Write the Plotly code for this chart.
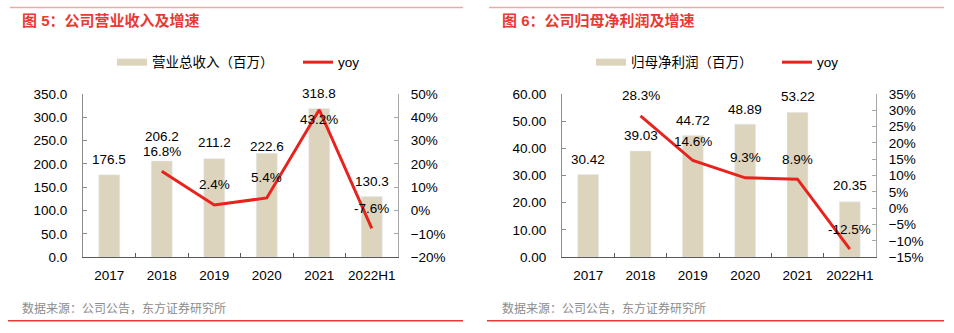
import plotly.graph_objects as go

# ---------------- data ----------------
categories = ["2017", "2018", "2019", "2020", "2021", "2022H1"]

revenue = [176.5, 206.2, 211.2, 222.6, 318.8, 130.3]
revenue_yoy = [None, 16.8, 2.4, 5.4, 43.2, -7.6]

profit = [30.42, 39.03, 44.72, 48.89, 53.22, 20.35]
profit_yoy = [None, 28.3, 14.6, 9.3, 8.9, -12.5]

title1 = "图 5：公司营业收入及增速"
title2 = "图 6：公司归母净利润及增速"
source = "数据来源：公司公告，东方证券研究所"
bar_name1 = "营业总收入（百万）"
bar_name2 = "归母净利润（百万）"
line_name = "yoy"

# ---------------- styles ----------------
W, H = 954, 333
BAR = "#ddd4bd"
RED = "#e8231e"
TITLE_RED = "#e83a33"
FONT = "'Liberation Sans', Arial, 'Noto Sans CJK SC', sans-serif"
FS = 13.5

# label offsets (px above the value)
rev_bar_off = [15, 24, 16, 7, 15, 15]
rev_line_off = [0, 20, 20, 20, -10, 20]
pro_bar_off = [15, 15, 15, 15, 16, 16]
pro_line_off = [0, 20, 19, 20, 20, 20]

def px(x):
    return x / W

def py(y):
    return 1 - y / H

y0, y1 = py(262), py(91)

fig = go.Figure()

# chart 1
fig.add_trace(go.Bar(x=categories, y=revenue, marker_color=BAR, width=0.4,
                     xaxis="x", yaxis="y", showlegend=False, name=bar_name1))
fig.add_trace(go.Scatter(x=categories, y=revenue_yoy, mode="lines",
                         line=dict(color=RED, width=3), xaxis="x", yaxis="y2",
                         name=line_name, legend="legend2"))
fig.add_trace(go.Scatter(x=[categories[0]], y=[None], mode="lines",
                         line=dict(color=BAR, width=7), xaxis="x", yaxis="y",
                         name=bar_name1, legend="legend"))
# chart 2
fig.add_trace(go.Bar(x=categories, y=profit, marker_color=BAR, width=0.4,
                     xaxis="x2", yaxis="y3", showlegend=False, name=bar_name2))
fig.add_trace(go.Scatter(x=categories, y=profit_yoy, mode="lines",
                         line=dict(color=RED, width=3), xaxis="x2", yaxis="y4",
                         name=line_name, legend="legend4"))
fig.add_trace(go.Scatter(x=[categories[0]], y=[None], mode="lines",
                         line=dict(color=BAR, width=7), xaxis="x2", yaxis="y3",
                         name=bar_name2, legend="legend3"))

tickfont = dict(family=FONT, size=FS, color="#000000")

def xax(domain, anchor):
    return dict(domain=domain, anchor=anchor, type="category",
                categoryorder="array", categoryarray=categories,
                range=[-0.5, len(categories) - 0.5],
                showline=True, linecolor="#595959", linewidth=1.3,
                ticks="inside", tickson="boundaries", ticklen=4,
                tickcolor="#595959", tickfont=tickfont, ticklabelstandoff=5,
                tickangle=0, showgrid=False, zeroline=False, fixedrange=True)

def yleft(anchor, rng, dtick, fmt):
    return dict(domain=[y0, y1], anchor=anchor, range=rng, dtick=dtick,
                tickformat=fmt, showline=True, linecolor="#8c8c8c",
                ticks="inside", ticklen=4, tickcolor="#8c8c8c",
                tickfont=tickfont, ticklabelstandoff=12,
                showgrid=False, zeroline=False)

def yright(anchor, overlay, rng, dtick):
    return dict(domain=[y0, y1], anchor=anchor, overlaying=overlay,
                side="right", range=rng, dtick=dtick, ticksuffix="%",
                showline=True, linecolor="#a6a6a6", ticks="inside",
                ticklen=4, tickcolor="#a6a6a6", tickfont=tickfont,
                ticklabelstandoff=9, showgrid=False, zeroline=False)

legfont = dict(family=FONT, size=FS, color="#000000")

def leg(xpix, ypix):
    return dict(x=px(xpix), y=py(ypix), xanchor="left", yanchor="middle",
                orientation="h", font=legfont, bgcolor="rgba(0,0,0,0)",
                borderwidth=0, itemclick=False)

fig.update_layout(
    width=W, height=H, margin=dict(l=0, r=0, t=0, b=0),
    paper_bgcolor="white", plot_bgcolor="white",
    font=dict(family=FONT, size=FS, color="#000000"),
    barmode="overlay",
    xaxis=xax([px(83), px(398)], "y"),
    yaxis=yleft("x", [0, 350], 50, ".1f"),
    yaxis2=yright("x", "y", [-20, 50], 10),
    xaxis2=xax([px(562), px(876)], "y3"),
    yaxis3=yleft("x2", [0, 60], 10, ".2f"),
    yaxis4=yright("x2", "y3", [-15, 35], 5),
    legend=leg(112, 58),
    legend2=leg(298, 58),
    legend3=leg(591, 58),
    legend4=leg(777, 58),
)

ann = []
def label(xref, yref, ys, offs, fmt):
    for i, (yv, o) in enumerate(zip(ys, offs)):
        if yv is None:
            continue
        ann.append(dict(x=i, y=yv, xref=xref, yref=yref, yshift=o,
                        text=fmt.format(yv), showarrow=False,
                        font=dict(family=FONT, size=FS, color="#000000"),
                        yanchor="middle"))

label("x", "y", revenue, rev_bar_off, "{:.1f}")
label("x", "y2", revenue_yoy, rev_line_off, "{:.1f}%")
label("x2", "y3", profit, pro_bar_off, "{:.2f}")
label("x2", "y4", profit_yoy, pro_line_off, "{:.1f}%")

for t, xs in [(title1, 20), (title2, 500)]:
    ann.append(dict(x=px(xs), y=py(14), xref="paper", yref="paper",
                    xanchor="left", yanchor="middle", showarrow=False,
                    text="<b>" + t + "</b>",
                    font=dict(family=FONT, size=15, color=TITLE_RED)))
    ann.append(dict(x=px(xs), y=py(316), xref="paper", yref="paper",
                    xanchor="left", yanchor="middle", showarrow=False,
                    text=source, font=dict(family=FONT, size=12, color="#8c8c8c")))

fig.update_layout(annotations=ann)

shapes = []
for xa, xb in [(10, 463), (489, 944)]:
    shapes.append(dict(type="line", xref="paper", yref="paper",
                       x0=px(xa), x1=px(xb), y0=py(0.5), y1=py(0.5),
                       line=dict(color="#f4a6a6", width=1.5)))
    shapes.append(dict(type="line", xref="paper", yref="paper",
                       x0=px(xa - 2), x1=px(xb), y0=py(328.5), y1=py(328.5),
                       line=dict(color="#e83a33", width=1.5)))
fig.update_layout(shapes=shapes)

fig.write_html("out.html")
